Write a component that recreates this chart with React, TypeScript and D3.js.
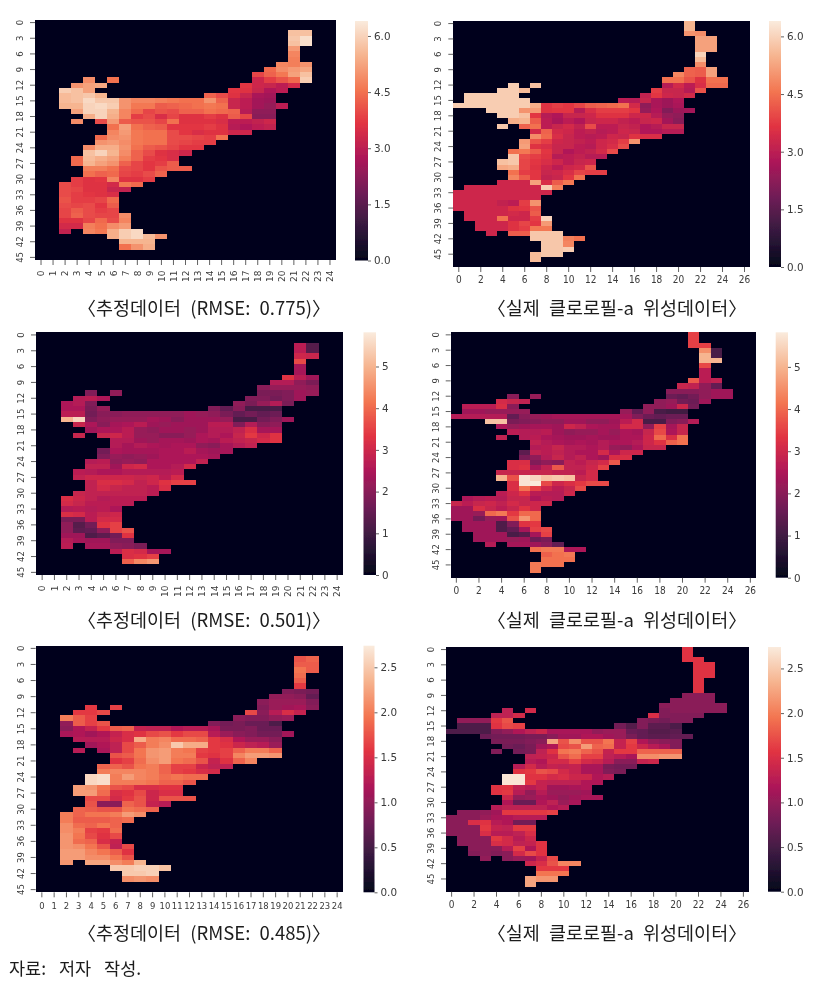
import React, { useEffect, useRef } from 'react';
import * as d3 from 'd3';

// [row, first column, values]; a row with a gap has two entries
type Run = [number, number, number[]];

const rocketStops = ['#03051a', '#35193e', '#701f57', '#ad1759', '#e13342', '#f37651', '#f6b48f', '#faebdd'];

const estimate1: Run[] = [
  [2, 21, [5.7, 5.7]], [3, 21, [5.8, 6.2]], [4, 21, [5.7, 6.2]], [5, 21, [5.1]], [6, 21, [4.8]], [7, 21, [4.7]],
  [8, 20, [4.8, 4.7, 5.0]], [9, 19, [4.4, 4.9, 5.1, 5.3]], [10, 18, [3.9, 4.3, 4.6, 5.2, 5.7]],
  [11, 4, [4.9]], [11, 6, [4.5]], [11, 18, [3.3, 3.8, 4.1, 4.4, 5.9]],
  [12, 3, [5.0, 5.2, 5.3]], [12, 17, [3.7, 3.3, 3.2, 3.0, 3.4]],
  [13, 2, [5.9, 5.7, 5.2]], [13, 16, [3.7, 3.6, 3.2, 2.8, 3.0]],
  [14, 2, [5.6, 5.7, 5.8, 5.5]], [14, 14, [4.3, 4.0, 3.6, 3.2, 2.7, 2.6]],
  [15, 2, [5.6, 5.7, 6.1, 5.8, 5.8, 5.0, 4.8, 4.8, 4.7, 4.6, 4.5, 4.5, 5.0, 4.3, 3.2, 3.0, 2.6, 2.5]],
  [16, 2, [5.5, 5.5, 6.0, 6.1, 5.9, 5.0, 4.6, 4.6, 4.2, 4.3, 4.4, 4.5, 4.6, 4.5, 3.2, 3.0, 2.6, 2.4, 3.0]],
  [17, 3, [5.2, 6.0, 6.0, 5.5, 4.8, 4.4, 3.9, 4.1, 4.0, 4.3, 4.3, 4.5, 4.4, 4.3, 2.9, 2.3, 2.3]],
  [18, 4, [5.4, 6.0, 5.4, 4.8, 3.8, 4.0, 3.5, 3.9, 3.6, 3.6, 3.8, 3.6, 4.2, 3.9, 2.2, 2.2]],
  [19, 3, [4.9]], [19, 5, [4.0, 5.1, 4.2, 4.1, 4.1, 3.9, 4.5, 3.6, 3.6, 3.6, 3.5, 3.0, 3.0, 3.1, 3.3]],
  [20, 6, [4.5, 5.2, 4.5, 4.3, 4.2, 3.7, 3.7, 3.7, 3.8, 3.6, 2.9, 2.8, 3.0, 3.1]],
  [21, 6, [4.8, 5.1, 4.6, 4.5, 4.5, 4.0, 3.7, 3.5, 3.6, 3.6, 3.3, 3.3]],
  [22, 5, [4.4, 4.9, 5.0, 4.6, 4.5, 4.5, 4.0, 4.0, 3.9, 3.8, 4.5]],
  [23, 5, [5.0, 5.1, 4.9, 4.6, 4.5, 4.5, 4.0, 3.9, 3.8, 3.8]],
  [24, 4, [4.9, 5.4, 5.4, 5.0, 4.5, 4.2, 4.1, 3.9, 3.7, 3.7]],
  [25, 4, [5.7, 6.0, 5.5, 4.9, 4.3, 4.0, 3.6, 3.5, 3.3]],
  [26, 3, [4.4, 5.6, 5.4, 5.2, 4.7, 4.3, 3.8, 3.7, 3.5]],
  [27, 3, [4.4, 5.5, 5.2, 5.0, 4.3, 3.9, 3.7, 3.8, 4.2]],
  [28, 4, [4.7, 4.7, 4.5, 4.0, 3.9, 3.7, 4.1, 4.2, 4.2]],
  [29, 4, [4.5, 4.3, 4.4, 3.9, 3.8, 4.0, 4.3]],
  [30, 3, [3.8, 3.6, 3.7, 4.8, 3.6, 3.6, 3.8]],
  [31, 2, [4.0, 3.8, 3.6, 3.6, 3.4, 4.6, 4.4]],
  [32, 2, [4.0, 3.9, 3.6, 3.6, 3.2, 3.1]],
  [33, 2, [4.0, 3.8, 3.7, 3.6, 3.5]],
  [34, 2, [4.1, 3.8, 3.8, 3.9, 4.4]],
  [35, 2, [4.0, 3.9, 4.0, 3.7, 4.2]],
  [36, 2, [3.9, 4.2, 4.0, 3.8, 3.9]],
  [37, 2, [3.9, 4.3, 4.0, 3.9, 3.9, 4.9]],
  [38, 2, [3.6, 3.6, 3.9, 4.4, 4.0, 4.8]],
  [39, 2, [3.4, 3.4, 4.7, 4.5, 4.9, 5.1]],
  [40, 2, [3.1]], [40, 4, [4.8, 4.6, 5.4, 5.9, 6.1]],
  [41, 6, [5.4, 5.9, 6.1, 5.6, 5.0]],
  [42, 7, [5.5, 5.5, 5.5]],
  [43, 7, [4.5, 5.0, 5.4]],
];

const satellite1: Run[] = [
  [0, 21, [5.5]], [1, 21, [5.5]], [2, 21, [5.0, 4.9]], [3, 22, [5.2, 5.2]], [4, 22, [5.2, 5.2]], [5, 22, [5.2, 5.2]],
  [6, 22, [6.0]], [7, 22, [5.6]], [8, 22, [4.9]], [9, 21, [4.3, 4.2, 5.2]], [10, 20, [4.8, 4.3, 4.2, 5.2]],
  [11, 19, [4.5, 4.5, 4.1, 3.6, 4.5, 4.5]],
  [12, 5, [5.9]], [12, 7, [5.7]], [12, 19, [2.9, 3.4, 3.0, 3.5, 4.4, 4.4]],
  [13, 4, [5.9, 5.9, 5.6]], [13, 18, [3.8, 3.2, 3.2, 2.9, 4.1]],
  [14, 1, [5.9, 5.9, 5.9, 5.9, 5.9]], [14, 17, [3.1, 3.7, 3.3, 3.2, 3.4]],
  [15, 1, [5.9, 5.9, 5.9, 5.9, 5.9, 5.9]], [15, 15, [3.0, 2.9, 3.2, 2.7, 2.5, 2.8]],
  [16, 0, [5.9, 5.9, 5.9, 5.9, 5.9, 5.9, 5.9, 5.4, 3.6, 3.8, 3.7, 3.9, 4.2, 4.3, 4.4, 4.5, 3.4, 2.3, 2.7, 2.5, 2.7]],
  [17, 3, [5.9, 5.9, 5.9, 5.0, 5.1, 3.6, 3.7, 3.7, 2.9, 3.5, 3.8, 3.8, 3.8, 3.7, 2.4, 2.8, 2.1, 2.5, 2.6]],
  [18, 4, [5.9, 5.9, 5.7, 3.7, 2.9, 2.8, 3.2, 3.2, 3.3, 3.6, 3.6, 3.6, 3.3, 3.3, 2.9, 2.4, 2.3]],
  [19, 5, [5.4, 5.5, 4.2, 3.0, 2.7, 3.0, 2.8, 3.2, 3.3, 3.3, 3.1, 3.0, 3.2, 3.3, 2.6, 2.2]],
  [20, 4, [5.8]], [20, 6, [4.3, 4.5, 3.0, 3.2, 3.4, 3.1, 4.0, 3.0, 3.0, 3.2, 3.1, 2.8, 2.9, 3.2, 3.2]],
  [21, 7, [3.4, 4.3, 3.4, 3.3, 3.0, 3.1, 2.9, 3.0, 3.3, 3.2, 2.8, 2.8, 2.9, 2.9]],
  [22, 7, [4.9, 4.4, 3.5, 3.2, 3.0, 2.9, 3.0, 3.3, 3.2, 3.6, 3.5, 3.5]],
  [23, 6, [5.1, 4.1, 3.8, 3.3, 3.2, 3.1, 3.0, 3.3, 3.4, 3.8, 5.0]],
  [24, 6, [5.2, 3.6, 3.5, 3.2, 3.2, 3.0, 2.9, 3.3, 3.5, 4.0]],
  [25, 5, [4.5, 4.6, 4.2, 3.7, 3.2, 2.8, 3.0, 3.1, 3.4, 4.0]],
  [26, 5, [5.8, 4.0, 3.8, 3.6, 2.9, 3.0, 3.1, 2.9, 2.9]],
  [27, 4, [5.7, 5.8, 3.9, 3.7, 3.5, 3.3, 3.0, 3.2, 3.3]],
  [28, 4, [5.3, 5.4, 3.9, 3.6, 3.3, 3.0, 3.3, 3.4, 4.1]],
  [29, 5, [4.5, 3.8, 3.7, 3.2, 3.3, 3.5, 3.9, 3.8, 3.8]],
  [30, 5, [4.8, 4.2, 3.7, 3.1, 3.2, 3.7, 4.5]],
  [31, 4, [3.3, 3.3, 3.3, 5.2, 3.5, 4.2, 4.6]],
  [32, 1, [3.3, 3.3, 3.3, 3.3, 3.3, 3.3, 3.3, 5.9, 4.7]],
  [33, 0, [3.3, 3.3, 3.3, 3.3, 3.3, 3.3, 3.3, 3.3, 3.3]],
  [34, 0, [3.3, 3.3, 3.3, 3.3, 3.3, 3.3, 3.3, 3.3]],
  [35, 0, [3.3, 3.3, 3.3, 3.3, 3.1, 3.0, 3.8, 5.0]],
  [36, 0, [3.3, 3.3, 3.3, 3.3, 3.3, 3.6, 3.7, 4.1]],
  [37, 1, [3.3, 3.3, 3.3, 3.3, 3.4, 3.3, 4.2]],
  [38, 1, [3.3, 3.3, 3.3, 4.5, 3.3, 3.3, 3.8, 6.0]],
  [39, 2, [3.3, 3.3, 3.3, 3.6, 3.9, 3.7, 5.1]],
  [40, 2, [3.3, 3.3, 3.3, 3.6, 3.8, 4.6, 4.6]],
  [41, 3, [3.3]], [41, 5, [4.2, 4.2, 5.8, 5.8, 5.8]],
  [42, 7, [5.8, 5.8, 5.8, 4.7, 4.5]],
  [43, 8, [5.8, 5.8, 4.8]],
  [44, 8, [5.8, 5.8, 5.9]],
  [45, 7, [5.6, 5.8, 5.8]],
  [46, 7, [5.6]],
];

const estimate2: Run[] = [
  [2, 21, [2.7, 1.3]], [3, 21, [2.7, 1.3]], [4, 21, [3.0, 2.9]], [5, 21, [3.6]], [6, 21, [2.4]], [7, 21, [2.4]],
  [8, 20, [3.3, 2.7, 2.3]], [9, 19, [2.6, 2.6, 2.1, 1.8]], [10, 18, [2.0, 2.2, 2.2, 2.2, 2.1]],
  [11, 4, [1.9]], [11, 6, [2.1]], [11, 18, [1.8, 1.8, 1.9, 2.3, 2.2]],
  [12, 3, [2.6, 2.7, 2.5]], [12, 17, [1.9, 1.9, 1.7, 1.9, 2.3]],
  [13, 2, [2.5, 2.6, 1.9]], [13, 16, [2.1, 1.8, 2.2, 2.6, 1.8]],
  [14, 2, [2.5, 2.5, 1.8, 2.2]], [14, 14, [1.9, 1.5, 2.0, 1.1, 1.1, 1.1]],
  [15, 2, [2.7, 2.7, 1.7, 2.0, 2.0, 2.1, 2.1, 2.1, 2.1, 2.1, 2.3, 2.2, 2.1, 1.8, 1.5, 1.7, 1.5, 1.6]],
  [16, 2, [5.0, 5.5, 1.9, 2.1, 2.2, 2.2, 2.2, 2.4, 2.3, 2.0, 2.3, 2.3, 2.3, 2.2, 1.1, 1.1, 1.7, 1.9, 2.3]],
  [17, 3, [2.9, 2.5, 2.0, 2.4, 2.5, 2.7, 2.3, 2.2, 2.3, 2.3, 2.3, 2.7, 2.7, 1.9, 2.6, 2.0, 2.1]],
  [18, 4, [2.3, 2.5, 2.5, 2.7, 2.2, 2.1, 2.3, 2.3, 2.2, 2.3, 2.6, 2.6, 2.8, 3.2, 2.4, 2.4]],
  [19, 3, [2.9]], [19, 5, [2.9, 3.0, 2.7, 2.2, 2.2, 2.0, 2.0, 2.2, 2.5, 2.6, 2.5, 2.9, 3.4, 3.0, 3.3]],
  [20, 6, [2.6, 2.6, 2.3, 2.2, 2.4, 2.4, 2.3, 2.5, 2.4, 2.7, 2.8, 2.9, 3.1, 3.3]],
  [21, 6, [2.6, 2.4, 2.6, 2.5, 2.4, 2.5, 2.5, 2.1, 2.0, 2.4, 2.6, 2.8]],
  [22, 5, [1.7, 2.5, 2.4, 2.4, 2.4, 2.5, 2.5, 2.7, 2.4, 2.3, 2.4]],
  [23, 5, [1.9, 2.2, 2.1, 2.2, 2.3, 2.5, 2.5, 2.5, 2.5, 2.4]],
  [24, 4, [2.6, 2.7, 2.1, 2.2, 2.1, 2.5, 2.5, 2.5, 2.5, 2.8]],
  [25, 4, [2.8, 2.8, 2.3, 3.0, 3.1, 2.5, 2.5, 2.6, 3.1]],
  [26, 3, [2.7, 2.6, 2.5, 2.5, 2.6, 2.6, 2.6, 2.6, 2.7]],
  [27, 3, [2.8, 3.0, 3.0, 3.0, 3.0, 2.9, 3.0, 2.7, 3.1]],
  [28, 4, [2.8, 3.2, 3.2, 3.1, 2.8, 3.0, 3.3, 3.5, 3.5]],
  [29, 4, [2.8, 3.1, 2.9, 2.8, 2.8, 2.7, 3.2]],
  [30, 3, [2.9, 2.8, 2.8, 2.8, 2.8, 2.8, 2.7]],
  [31, 2, [3.2, 3.0, 2.8, 2.6, 2.7, 2.7, 2.7]],
  [32, 2, [3.1, 2.9, 2.7, 2.7, 2.7, 2.7]],
  [33, 2, [2.6, 2.7, 2.6, 2.7, 2.5]],
  [34, 2, [3.2, 3.1, 2.7, 2.9, 3.0]],
  [35, 2, [1.8, 1.8, 2.7, 3.1, 3.1]],
  [36, 2, [2.1, 1.3, 1.7, 3.3, 3.5]],
  [37, 2, [2.1, 1.4, 1.5, 2.1, 3.5, 3.7]],
  [38, 2, [2.3, 2.3, 1.2, 1.4, 1.7, 3.3]],
  [39, 2, [2.6, 2.4, 2.3, 2.3, 1.9, 1.9]],
  [40, 2, [2.7]], [40, 4, [2.4, 2.4, 2.1, 2.0, 1.8]],
  [41, 6, [2.7, 3.2, 3.1, 2.4, 2.4]],
  [42, 7, [3.2, 3.3, 3.5]],
  [43, 7, [3.9, 4.4, 4.6]],
];

const satellite2: Run[] = [
  [0, 21, [3.5]], [1, 21, [3.5]], [2, 21, [3.5, 3.5]], [3, 22, [4.5, 1.1]], [4, 22, [5.0, 1.1]], [5, 22, [5.0, 5.0]],
  [6, 22, [3.6]], [7, 22, [2.7]], [8, 22, [2.7]], [9, 21, [3.8, 2.7, 2.8]], [10, 20, [2.9, 2.8, 2.1, 1.5]],
  [11, 19, [2.0, 2.0, 2.0, 2.1, 2.3, 2.3]],
  [12, 5, [2.0]], [12, 7, [2.2]], [12, 19, [1.6, 1.5, 1.7, 2.1, 2.3, 2.3]],
  [13, 4, [3.1, 2.9, 2.8]], [13, 18, [2.1, 2.2, 1.7, 1.6, 2.3]],
  [14, 1, [2.7, 2.7, 2.7, 3.2, 2.0]], [14, 17, [2.1, 2.1, 2.3, 3.0, 1.7]],
  [15, 1, [2.3, 2.3, 2.2, 2.2, 2.2, 2.2]], [15, 15, [2.2, 1.5, 2.1, 1.1, 1.0, 1.0]],
  [16, 0, [2.6, 2.6, 2.6, 2.6, 2.6, 1.5, 2.0, 2.2, 2.3, 2.4, 2.4, 2.4, 2.4, 2.4, 2.4, 2.4, 1.9, 1.6, 1.5, 1.6, 1.6]],
  [17, 3, [5.2, 5.2, 1.8, 1.9, 2.0, 2.1, 2.1, 2.3, 2.3, 2.1, 2.1, 2.3, 2.7, 3.1, 1.1, 1.1, 1.9, 2.0, 2.6]],
  [18, 4, [2.5, 2.2, 2.3, 2.4, 2.4, 2.3, 3.0, 2.8, 2.5, 2.4, 2.4, 3.1, 3.1, 2.1, 3.5, 2.4, 2.9]],
  [19, 5, [2.7, 2.6, 2.6, 2.7, 2.3, 2.1, 2.2, 2.2, 2.4, 2.2, 2.5, 2.4, 2.9, 3.6, 2.5, 2.9]],
  [20, 4, [2.8]], [20, 6, [2.6, 2.7, 2.5, 2.4, 2.3, 2.3, 2.4, 2.3, 2.3, 2.5, 2.5, 3.0, 4.0, 3.2, 4.1]],
  [21, 7, [2.8, 2.6, 2.5, 2.4, 2.5, 2.4, 2.6, 2.5, 2.5, 2.6, 3.0, 3.3, 3.9, 4.1]],
  [22, 7, [2.6, 2.7, 2.9, 2.6, 2.6, 2.5, 2.6, 2.2, 2.1, 2.5, 2.9, 2.9]],
  [23, 6, [1.4, 2.8, 2.7, 2.8, 2.6, 2.5, 2.5, 3.1, 2.5, 3.0, 3.0]],
  [24, 6, [1.8, 2.1, 2.6, 2.9, 2.6, 2.8, 2.5, 2.3, 3.2, 3.2]],
  [25, 5, [3.2, 3.2, 1.9, 2.1, 2.0, 2.8, 2.7, 2.9, 3.1, 3.8]],
  [26, 5, [3.2, 3.3, 2.4, 2.8, 3.8, 2.8, 2.8, 3.0, 3.5]],
  [27, 4, [2.9, 2.9, 2.9, 2.9, 2.9, 2.8, 2.8, 2.7, 3.1]],
  [28, 4, [5.0, 3.7, 5.7, 5.5, 5.2, 5.3, 5.2, 2.9, 3.1]],
  [29, 5, [3.2, 5.7, 5.8, 3.6, 3.0, 3.2, 3.4, 3.6, 3.6]],
  [30, 5, [3.2, 4.1, 3.5, 3.0, 2.7, 2.9, 3.6]],
  [31, 4, [2.7, 3.0, 3.3, 2.7, 2.6, 2.6, 3.0]],
  [32, 1, [2.5, 2.6, 2.7, 2.6, 2.9, 2.9, 2.5, 2.7, 2.6]],
  [33, 0, [2.9, 2.7, 2.9, 3.0, 2.8, 3.1, 2.9, 3.0, 3.0]],
  [34, 0, [2.3, 2.3, 3.2, 2.9, 2.7, 2.9, 3.3, 3.0]],
  [35, 0, [2.3, 2.3, 2.2, 4.0, 4.2, 3.4, 4.0, 4.0]],
  [36, 0, [2.3, 2.3, 1.7, 2.2, 2.3, 3.7, 4.6, 4.0]],
  [37, 1, [2.3, 2.3, 2.3, 1.2, 1.9, 3.3, 3.4]],
  [38, 1, [2.3, 2.3, 2.3, 1.2, 1.5, 2.4, 3.5, 3.6]],
  [39, 2, [2.3, 2.3, 2.3, 1.1, 1.3, 2.4, 3.5]],
  [40, 2, [2.3, 2.3, 2.3, 2.2, 2.3, 1.6, 1.8]],
  [41, 3, [2.6]], [41, 5, [2.4, 2.4, 2.3, 2.0, 1.5]],
  [42, 7, [4.1, 4.2, 4.2, 2.5, 2.5]],
  [43, 8, [3.9, 4.1, 4.2]],
  [44, 8, [4.1, 4.1, 4.1]],
  [45, 7, [4.2, 4.1, 4.1]],
  [46, 7, [4.2]],
];

const estimate3: Run[] = [
  [2, 21, [1.75, 1.85]], [3, 21, [1.8, 1.8]], [4, 21, [1.95, 1.8]], [5, 21, [1.9]], [6, 21, [1.8]], [7, 21, [1.6]],
  [8, 20, [0.9, 0.85, 0.8]], [9, 19, [1.0, 1.0, 0.95, 0.7]], [10, 18, [0.95, 1.05, 1.05, 1.05, 0.9]],
  [11, 4, [1.6]], [11, 6, [1.65]], [11, 18, [0.9, 1.05, 1.1, 1.15, 0.95]],
  [12, 3, [1.6, 1.6, 1.7]], [12, 17, [1.7, 0.95, 1.25, 1.5, 1.35]],
  [13, 2, [2.0, 1.8, 1.65]], [13, 16, [0.95, 0.9, 0.9, 1.0, 1.05]],
  [14, 2, [1.0, 1.8, 1.65, 1.75]], [14, 14, [0.9, 0.8, 0.85, 0.75, 0.75, 0.55]],
  [15, 2, [0.95, 1.2, 1.35, 1.6, 1.8, 1.85, 1.35, 1.3, 1.3, 1.2, 1.25, 1.25, 1.15, 0.85, 0.85, 0.9, 0.75, 0.75]],
  [16, 2, [1.15, 1.2, 1.1, 1.2, 1.35, 1.5, 1.55, 1.7, 1.75, 1.6, 1.7, 1.7, 1.25, 1.05, 0.95, 0.9, 0.8, 0.8, 1.1]],
  [17, 3, [1.25, 1.25, 1.25, 1.4, 1.5, 2.3, 2.0, 2.05, 1.9, 1.9, 1.85, 1.6, 1.5, 1.2, 1.05, 1.05, 0.95]],
  [18, 4, [1.1, 1.2, 1.3, 1.7, 1.8, 2.0, 2.1, 2.5, 2.3, 2.3, 1.6, 1.55, 1.4, 1.3, 1.25, 1.05]],
  [19, 3, [1.25]], [19, 5, [1.15, 1.3, 1.7, 1.95, 2.15, 2.2, 2.0, 1.95, 1.65, 1.6, 1.65, 1.85, 2.0, 2.0, 1.85]],
  [20, 6, [1.75, 1.8, 1.95, 2.15, 2.2, 2.0, 2.0, 1.6, 1.55, 1.65, 2.05, 2.2, 2.2, 2.15]],
  [21, 6, [1.55, 1.65, 1.9, 2.1, 2.2, 1.95, 1.9, 1.75, 1.35, 1.55, 1.85, 2.05]],
  [22, 5, [1.85, 1.85, 1.75, 1.95, 2.0, 1.85, 1.65, 1.65, 1.4, 1.3, 1.3]],
  [23, 5, [2.0, 2.05, 2.05, 2.05, 2.0, 1.85, 1.65, 1.6, 1.5, 1.45]],
  [24, 4, [2.6, 2.65, 2.0, 2.2, 2.05, 2.0, 1.9, 1.95, 1.9, 1.9]],
  [25, 4, [2.6, 2.65, 2.0, 2.0, 2.0, 1.95, 1.85, 1.85, 1.75]],
  [26, 3, [2.2, 2.15, 1.95, 1.75, 1.7, 1.5, 1.5, 1.55, 1.55]],
  [27, 3, [2.2, 2.2, 1.9, 1.5, 1.55, 1.7, 1.4, 1.5, 1.5]],
  [28, 4, [1.7, 1.7, 1.45, 1.6, 1.75, 1.4, 1.75, 1.75, 1.75]],
  [29, 4, [1.75, 0.95, 0.95, 1.85, 1.75, 1.35, 1.25]],
  [30, 3, [1.85, 1.8, 1.75, 1.75, 1.95, 1.9, 1.85]],
  [31, 2, [2.0, 1.85, 1.95, 1.95, 2.0, 2.2, 2.1]],
  [32, 2, [2.0, 1.8, 1.8, 1.8, 1.85, 1.9]],
  [33, 2, [2.1, 1.9, 1.85, 1.95, 1.85]],
  [34, 2, [2.1, 2.0, 1.65, 1.6, 1.9]],
  [35, 2, [2.15, 1.95, 1.7, 1.55, 1.7]],
  [36, 2, [2.15, 1.9, 1.85, 1.5, 1.35]],
  [37, 2, [2.15, 2.1, 1.95, 1.75, 1.3, 1.7]],
  [38, 2, [2.2, 2.2, 2.05, 1.95, 1.8, 1.55]],
  [39, 2, [2.2, 2.2, 2.1, 2.1, 1.95, 1.75]],
  [40, 2, [2.15]], [40, 4, [2.25, 2.25, 2.1, 2.0, 2.35]],
  [41, 6, [2.5, 2.5, 2.55, 2.55, 2.45]],
  [42, 7, [2.5, 2.5, 2.55]],
  [43, 7, [2.1, 2.15, 2.1]],
];

const satellite3: Run[] = [
  [0, 21, [1.55]], [1, 21, [1.55]], [2, 21, [1.55, 1.55]], [3, 22, [1.55, 1.55]], [4, 22, [1.55, 1.55]], [5, 22, [1.55, 1.55]],
  [6, 22, [1.55]], [7, 22, [1.55]], [8, 22, [1.55]], [9, 21, [0.95, 0.95, 0.95]], [10, 20, [0.95, 0.95, 0.95, 0.95]],
  [11, 19, [0.95, 0.95, 0.95, 0.95, 0.95, 0.95]],
  [12, 5, [1.3]], [12, 7, [1.45]], [12, 19, [0.9, 0.95, 0.95, 0.95, 0.95, 0.95]],
  [13, 4, [1.3, 1.3, 1.45]], [13, 18, [1.5, 0.9, 0.9, 0.9, 0.9]],
  [14, 1, [1.0, 1.0, 1.0, 1.6, 1.75]], [14, 17, [0.9, 0.85, 0.8, 0.9, 0.9]],
  [15, 1, [0.55, 0.55, 0.55, 1.55, 1.7, 1.65]], [15, 15, [0.8, 0.6, 0.9, 0.65, 0.65, 0.55]],
  [16, 0, [0.55, 0.55, 0.55, 0.55, 0.9, 1.0, 1.2, 1.3, 1.4, 1.15, 1.15, 1.15, 1.15, 1.0, 1.05, 1.05, 0.75, 0.7, 0.6, 0.6, 0.65]],
  [17, 3, [0.75, 0.8, 0.8, 0.8, 0.85, 0.85, 0.95, 1.1, 1.1, 1.2, 1.2, 1.1, 1.05, 0.85, 0.7, 0.65, 0.65, 0.7, 0.7]],
  [18, 4, [0.85, 0.85, 0.85, 0.9, 0.95, 2.25, 1.75, 2.1, 1.75, 1.75, 1.95, 1.35, 1.65, 1.2, 1.0, 0.95, 0.9]],
  [19, 5, [0.8, 0.75, 0.85, 1.1, 1.2, 1.7, 1.75, 2.2, 1.85, 1.9, 1.35, 1.6, 1.4, 1.25, 1.15, 0.9]],
  [20, 4, [0.9]], [20, 6, [0.8, 0.85, 1.3, 1.55, 1.95, 2.0, 1.85, 1.75, 1.35, 1.6, 1.6, 1.85, 1.85, 1.85, 1.85]],
  [21, 7, [1.3, 1.35, 1.4, 1.75, 1.9, 1.65, 1.65, 1.3, 1.25, 1.15, 2.1, 2.1, 2.15, 2.15]],
  [22, 7, [1.25, 1.2, 1.45, 1.45, 1.65, 1.45, 1.4, 1.25, 0.95, 0.95, 1.35, 1.4]],
  [23, 6, [1.25, 1.45, 1.25, 1.35, 1.3, 1.35, 1.15, 1.15, 0.85, 0.8, 0.8]],
  [24, 6, [1.55, 1.6, 1.75, 1.7, 1.45, 1.35, 1.15, 1.15, 0.9, 0.85]],
  [25, 5, [2.7, 2.7, 1.55, 1.55, 1.45, 1.5, 1.4, 1.4, 1.2, 1.25]],
  [26, 5, [2.7, 2.7, 1.6, 1.35, 1.3, 1.3, 1.3, 1.2, 1.2]],
  [27, 4, [1.55, 1.55, 1.3, 1.25, 1.35, 1.1, 1.1, 1.15, 1.2]],
  [28, 4, [1.55, 1.6, 1.25, 1.0, 1.25, 1.05, 1.05, 1.05, 1.1]],
  [29, 5, [1.4, 1.0, 1.05, 1.15, 1.1, 1.0, 1.1, 1.15, 1.15]],
  [30, 5, [1.2, 0.75, 0.75, 1.2, 1.3, 1.05, 1.15]],
  [31, 4, [1.25, 1.3, 1.3, 1.3, 1.3, 1.2, 1.25]],
  [32, 1, [0.95, 0.95, 1.0, 1.1, 1.6, 1.6, 1.6, 1.6, 1.65]],
  [33, 0, [0.95, 0.95, 0.95, 1.05, 1.15, 1.2, 1.25, 1.25, 1.25]],
  [34, 0, [0.95, 0.95, 1.5, 1.55, 1.25, 1.2, 0.8, 0.8]],
  [35, 0, [0.95, 0.95, 0.95, 1.6, 1.35, 1.3, 1.6, 1.6]],
  [36, 0, [0.95, 0.95, 0.95, 1.5, 1.25, 1.25, 1.3, 1.5]],
  [37, 1, [0.95, 0.95, 0.95, 1.6, 1.45, 1.25, 1.4]],
  [38, 1, [0.95, 0.95, 0.95, 1.5, 1.45, 1.3, 1.35, 1.55]],
  [39, 2, [0.95, 0.95, 0.95, 1.25, 1.65, 1.2, 1.55]],
  [40, 2, [0.9, 0.95, 0.9, 0.95, 1.45, 1.7, 1.55]],
  [41, 3, [1.0]], [41, 5, [0.95, 1.05, 1.1, 1.35, 1.7]],
  [42, 7, [1.4, 1.5, 1.75, 2.05, 2.05]],
  [43, 8, [1.6, 1.6, 1.6]],
  [44, 8, [1.95, 1.95, 1.95]],
  [45, 7, [2.25, 2.15, 2.15]],
  [46, 7, [2.25]],
];

const rmseCaption = ['〈추정데이터 (RMSE: 0.775)〉', '〈추정데이터 (RMSE: 0.501)〉', '〈추정데이터 (RMSE: 0.485)〉'];
const satelliteCaption = '〈실제 클로로필-a 위성데이터〉';
const sourceNote = '자료: 저자 작성.';

const maxValues = [6.4, 5.82, 2.74];
const barTicks = [[0, 1.5, 3, 4.5, 6], [0, 1, 2, 3, 4, 5], [0, 0.5, 1, 1.5, 2, 2.5]];

const panels = [
  { runs: estimate1, cols: 25, rows: 46, box: [35, 336, 20, 260], bar: [355, 368, 21, 260.5], scale: 0, xEvery: 1, rotateX: true, caption: rmseCaption[0], capX: 204, capY: 308 },
  { runs: satellite1, cols: 27, rows: 48, box: [453.3, 750, 21, 267], bar: [769, 781, 21, 267], scale: 0, xEvery: 2, rotateX: false, caption: satelliteCaption, capX: 617, capY: 308 },
  { runs: estimate2, cols: 25, rows: 46, box: [36, 343.3, 332.3, 575], bar: [363.5, 376, 332.3, 575], scale: 1, xEvery: 1, rotateX: true, caption: rmseCaption[1], capX: 204, capY: 620 },
  { runs: satellite2, cols: 27, rows: 48, box: [450.7, 756, 332.3, 577.7], bar: [775.7, 788, 332.3, 577.7], scale: 1, xEvery: 2, rotateX: false, caption: satelliteCaption, capX: 617, capY: 620 },
  { runs: estimate3, cols: 25, rows: 46, box: [35.7, 343.3, 645.7, 892.3], bar: [363.5, 374.5, 645.7, 892.3], scale: 2, xEvery: 1, rotateX: false, caption: rmseCaption[2], capX: 204, capY: 933 },
  { runs: satellite3, cols: 27, rows: 48, box: [446, 749, 647, 891.7], bar: [768, 781, 647, 891.7], scale: 2, xEvery: 2, rotateX: false, caption: satelliteCaption, capX: 617, capY: 933 },
];

const inkColor = '#3a3a3a';
const tickFont = '"DejaVu Sans", sans-serif';
const koreanFont = '"Noto Sans CJK KR", sans-serif';

export default function App() {
  const ref = useRef<SVGSVGElement>(null);

  useEffect(() => {
    const root = d3.select(ref.current);
    root.selectAll('*').remove();

    const defs = root.append('defs');
    defs.append('filter').attr('id', 'soft')
      .attr('filterUnits', 'userSpaceOnUse')
      .attr('x', 0).attr('y', 0).attr('width', 823).attr('height', 999)
      .append('feGaussianBlur').attr('stdDeviation', 0.4);
    const grad = defs.append('linearGradient')
      .attr('id', 'rocket-bar')
      .attr('x1', 0).attr('y1', 1).attr('x2', 0).attr('y2', 0);
    rocketStops.forEach((c, i) => {
      grad.append('stop').attr('offset', i / (rocketStops.length - 1)).attr('stop-color', c);
    });

    // the reference is a soft, resampled image, so everything goes through one light blur
    const svg = root.append('g').attr('filter', 'url(#soft)');

    panels.forEach(p => {
      const [x0, x1, y0, y1] = p.box;
      const vmax = maxValues[p.scale];
      const color = d3.scaleLinear<string>()
        .domain(rocketStops.map((_, i) => (vmax * i) / (rocketStops.length - 1)))
        .range(rocketStops)
        .clamp(true);
      const x = d3.scaleBand<number>().domain(d3.range(p.cols)).range([x0, x1]);
      const y = d3.scaleBand<number>().domain(d3.range(p.rows)).range([y0, y1]);

      const cells = p.runs.flatMap(([row, start, values]) =>
        values.map((v, i) => ({ row, col: start + i, v })));

      const plot = svg.append('g').attr('shape-rendering', 'crispEdges');
      plot.append('rect')
        .attr('x', x0).attr('y', y0)
        .attr('width', x1 - x0).attr('height', y1 - y0)
        .attr('fill', color(0));
      plot.selectAll('rect.cell').data(cells).enter()
        .append('rect')
        .attr('class', 'cell')
        .attr('x', d => x(d.col)!)
        .attr('y', d => y(d.row)!)
        .attr('width', x.bandwidth())
        .attr('height', y.bandwidth())
        .attr('fill', d => color(d.v));

      // x 축
      const xAxis = d3.axisBottom(x)
        .tickValues(d3.range(0, p.cols, p.xEvery))
        .tickSize(5)
        .tickPadding(p.xEvery === 1 ? 5 : 4);
      const gx = svg.append('g').attr('transform', `translate(0 ${y1})`).call(xAxis);
      gx.select('.domain').remove();
      gx.selectAll('line').attr('stroke', inkColor).attr('stroke-width', 0.8);
      gx.selectAll('text')
        .attr('font-family', tickFont)
        .attr('font-stretch', 'condensed')
        .attr('font-size', p.rotateX ? 9.4 : p.xEvery === 1 ? 9.4 : 10)
        .attr('fill', inkColor);
      if (p.rotateX) {
        gx.selectAll('text')
          .attr('x', 0).attr('y', 0).attr('dy', 0)
          .attr('text-anchor', 'end')
          .attr('font-stretch', 'normal')
          .attr('font-size', 9)
          .attr('transform', 'translate(3.3 10.5) rotate(-90)');
      }

      // y 축
      const yAxis = d3.axisLeft(y)
        .tickValues(d3.range(0, p.rows, 3))
        .tickSize(5)
        .tickPadding(3);
      const gy = svg.append('g').attr('transform', `translate(${x0} 0)`).call(yAxis);
      gy.select('.domain').remove();
      gy.selectAll('line').attr('stroke', inkColor).attr('stroke-width', 0.8);
      gy.selectAll('text')
        .attr('font-family', tickFont)
        .attr('font-stretch', 'condensed')
        .attr('font-size', 9.5)
        .attr('fill', inkColor)
        .attr('x', 0).attr('y', 0).attr('dy', 0)
        .attr('text-anchor', 'middle')
        .attr('transform', 'translate(-12 0) rotate(-90)');

      // 컬러바
      const [bx0, bx1, by0, by1] = p.bar;
      svg.append('rect')
        .attr('x', bx0).attr('y', by0)
        .attr('width', bx1 - bx0).attr('height', by1 - by0)
        .attr('fill', 'url(#rocket-bar)');
      const barScale = d3.scaleLinear().domain([0, vmax]).range([by1, by0]);
      const barAxis = d3.axisRight(barScale)
        .tickValues(barTicks[p.scale])
        .tickFormat(p.scale === 1 ? d3.format('d') : d3.format('.1f'))
        .tickSize(3)
        .tickPadding(3);
      const gb = svg.append('g').attr('transform', `translate(${bx1} 0)`).call(barAxis);
      gb.select('.domain').remove();
      gb.selectAll('line').attr('stroke', inkColor).attr('stroke-width', 0.8);
      gb.selectAll('text')
        .attr('font-family', tickFont)
        .attr('font-size', 10.4)
        .attr('fill', inkColor);

      svg.append('text')
        .attr('x', p.capX).attr('y', p.capY)
        .attr('dy', '0.36em')
        .attr('text-anchor', 'middle')
        .attr('font-family', koreanFont)
        .attr('font-size', 18.5)
        .attr('word-spacing', 5)
        .attr('fill', '#1c1c1c')
        .text(p.caption);
    });

    svg.append('text')
      .attr('x', 9).attr('y', 975)
      .attr('font-family', koreanFont)
      .attr('font-size', 17.5)
      .attr('word-spacing', 9)
      .attr('fill', '#1c1c1c')
      .text(sourceNote);
  }, []);

  return (
    <svg
      ref={ref}
      width={823}
      height={999}
      style={{ position: 'absolute', left: 0, top: 0, background: '#fff' }}
    />
  );
}
